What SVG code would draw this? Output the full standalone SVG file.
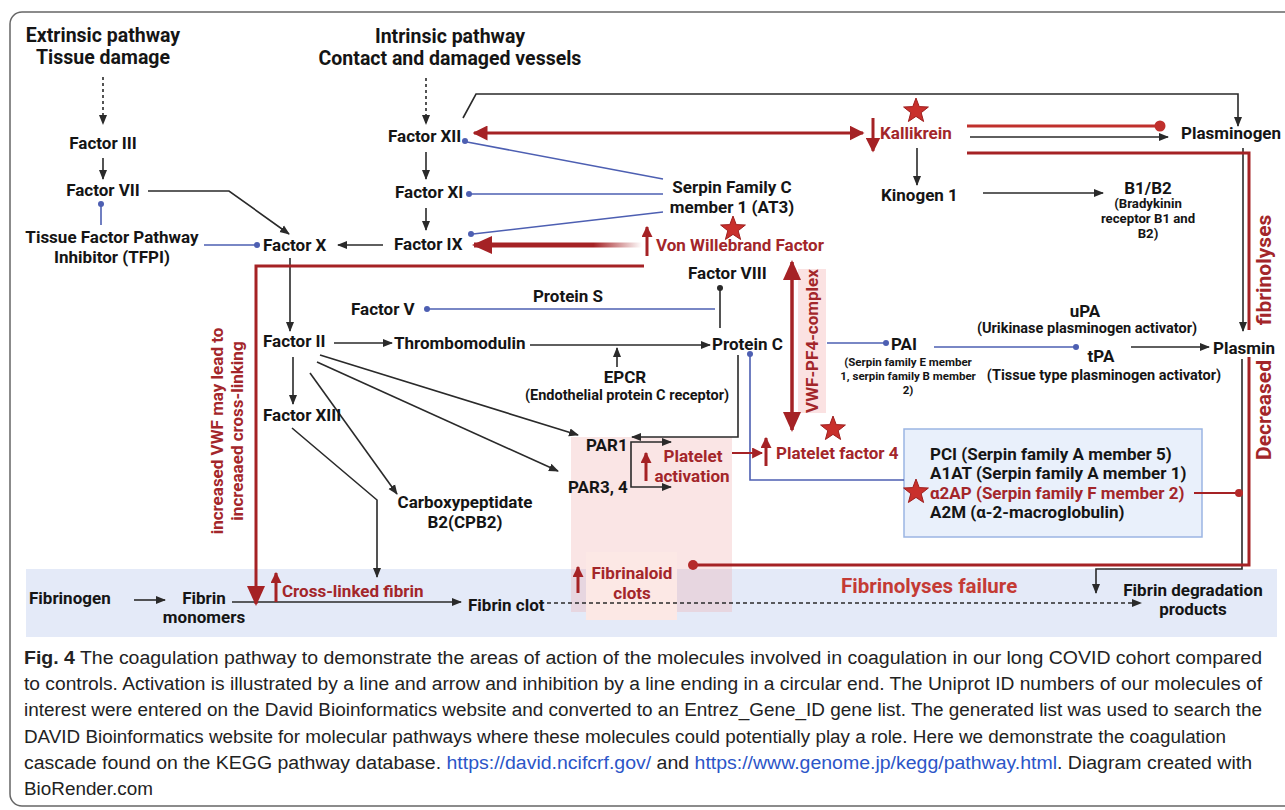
<svg xmlns="http://www.w3.org/2000/svg" width="1285" height="810" viewBox="0 0 1285 810">
<style>
.t{font-family:Roboto,"Liberation Sans",sans-serif;font-weight:700;font-size:17px;fill:#151515}
.h{font-size:19.5px}
.sm{font-size:14.5px}
.xs{font-size:13.2px}
.xxs{font-size:11.5px}
.big{font-size:21px}
.r{fill:#a3262a}
.m{text-anchor:middle}
.k{fill:none;stroke:#2a2a2a;stroke-width:1.6}
.b{fill:none;stroke:#4d5fb2;stroke-width:1.6}
.bd{fill:#4d5fb2}
.rl{fill:none;stroke:#a52225;stroke-width:3}
.rd{fill:#b52a2a}
.cap{font-family:"Liberation Sans",Arial,sans-serif;font-size:18px;fill:#222}
.lnk{fill:#2b55c8}
.st{fill:#c9302c;stroke:#9e1f1f;stroke-width:1}
</style>
<defs>
<marker id="ab" viewBox="0 0 10 10" refX="9" refY="5" markerWidth="10" markerHeight="10" markerUnits="userSpaceOnUse" orient="auto-start-reverse"><path d="M0,1 L10,5 L0,9 z" fill="#2a2a2a"/></marker>
<marker id="ar" viewBox="0 0 10 10" refX="9" refY="5" markerWidth="15" markerHeight="15" markerUnits="userSpaceOnUse" orient="auto-start-reverse"><path d="M0,0 L10,5 L0,10 z" fill="#a52225"/></marker>
<marker id="ars" viewBox="0 0 10 10" refX="9" refY="5" markerWidth="11" markerHeight="11" markerUnits="userSpaceOnUse" orient="auto-start-reverse"><path d="M0,0 L10,5 L0,10 z" fill="#a52225"/></marker>
<marker id="arb" viewBox="0 0 10 10" refX="9" refY="5" markerWidth="20" markerHeight="20" markerUnits="userSpaceOnUse" orient="auto-start-reverse"><path d="M0,0.5 L10,5 L0,9.5 z" fill="#a52225"/></marker>
<linearGradient id="vwf" gradientUnits="userSpaceOnUse" x1="480" y1="0" x2="642" y2="0"><stop offset="0.7" stop-color="#a52225"/><stop offset="1" stop-color="#a52225" stop-opacity="0"/></linearGradient>
<path id="star" d="M0,-13 L3.2,-4.4 L12.4,-4 L5.2,1.7 L7.6,10.5 L0,5.4 L-7.6,10.5 L-5.2,1.7 L-12.4,-4 L-3.2,-4.4 Z"/>
</defs>
<rect x="0" y="0" width="1285" height="810" fill="#fff"/>
<rect x="10" y="12" width="1300" height="794" rx="12" fill="none" stroke="#666" stroke-width="1.5"/>
<rect x="26" y="569" width="1251" height="68" fill="#e4eaf8"/>
<rect x="571" y="437" width="161" height="175" fill="#eeaaaa" fill-opacity="0.3"/>
<rect x="586" y="552" width="91" height="68" fill="#fce8e5"/>
<rect x="798" y="269" width="28" height="144" fill="#fbe2e2"/>
<rect x="904" y="429" width="298" height="108" fill="#e9f0fb" stroke="#9bb5e3" stroke-width="1.5"/>

<g id="connectors">
<path class="k" d="M103,77 V124" stroke-dasharray="3,3" marker-end="url(#ab)"/>
<path class="k" d="M426,78 V124" stroke-dasharray="3,3" marker-end="url(#ab)"/>
<path class="k" d="M103,158 V179" marker-end="url(#ab)"/>
<path class="k" d="M148,191 H229 L289,234" marker-end="url(#ab)"/>
<path class="k" d="M426,152 V179" marker-end="url(#ab)"/>
<path class="k" d="M426,208 V230" marker-end="url(#ab)"/>
<path class="k" d="M383,245 H338" marker-end="url(#ab)"/>
<path class="k" d="M290,258 V331" marker-end="url(#ab)"/>
<path class="k" d="M334,343 H392" marker-end="url(#ab)"/>
<path class="k" d="M530,345 H710" marker-end="url(#ab)"/>
<path class="k" d="M617,367 V348" marker-end="url(#ab)"/>
<path class="k" d="M293,357 V404" marker-end="url(#ab)"/>
<path class="k" d="M320,355 L578,435" marker-end="url(#ab)"/>
<path class="k" d="M317,362 L558,471" marker-end="url(#ab)"/>
<path class="k" d="M310,373 L397,494" marker-end="url(#ab)"/>
<path class="k" d="M292,428 L377,500 V577" marker-end="url(#ab)"/>
<path class="k" d="M738,355 V437 H632" marker-end="url(#ab)"/>
<path class="k" d="M631,465 V442 H671" marker-end="url(#ab)"/>
<path class="k" d="M631,465 V487 H671" marker-end="url(#ab)"/>
<path class="k" d="M720,328 V290"/>
<circle cx="720" cy="288" r="3" fill="#2a2a2a"/>
<path class="k" d="M463,118 L476,94 H1238 V126" marker-end="url(#ab)"/>
<path class="k" d="M970,137 H1168" marker-end="url(#ab)"/>
<path class="k" d="M917,148 V185" marker-end="url(#ab)"/>
<path class="k" d="M983,193 H1103" marker-end="url(#ab)"/>
<path class="k" d="M1243,148 V331" marker-end="url(#ab)"/>
<path class="k" d="M1131,347 H1209" marker-end="url(#ab)"/>
<path class="k" d="M1242,359 V569 H1096 V593" marker-end="url(#ab)"/>
<path class="k" d="M134,600 H165" marker-end="url(#ab)"/>
<path class="k" d="M232,602 H461" marker-end="url(#ab)"/>
<path class="k" d="M547,603 H1141" stroke-dasharray="4,3" marker-end="url(#ab)"/>

<path class="b" d="M101,225 V206"/><circle class="bd" cx="101" cy="204" r="3"/>
<path class="b" d="M204,245 H255"/><circle class="bd" cx="257" cy="245" r="3"/>
<path class="b" d="M663,179 L467,142"/><circle class="bd" cx="465" cy="141" r="3"/>
<path class="b" d="M663,194 H471"/><circle class="bd" cx="469" cy="194" r="3"/>
<path class="b" d="M663,212 L473,234"/><circle class="bd" cx="471" cy="234" r="3"/>
<path class="b" d="M715,309 H429"/><circle class="bd" cx="427" cy="309" r="3"/>
<path class="b" d="M750,356 V480 H904"/><circle class="bd" cx="750" cy="354" r="3"/>
<path class="b" d="M827,343 H884"/><circle class="bd" cx="886" cy="343" r="3"/>
<path class="b" d="M934,347 H1074"/><circle class="bd" cx="1076" cy="347" r="3"/>

<path class="rl" d="M474,133 H863" marker-start="url(#ar)" marker-end="url(#ar)"/>
<path d="M642,245 H474" fill="none" stroke="url(#vwf)" stroke-width="5" marker-end="url(#arb)"/>
<path class="rl" d="M647,256 V227" marker-end="url(#ars)"/>
<path class="rl" d="M644,266 H256 V604" marker-end="url(#arb)"/>
<path class="rl" d="M873,118 V151" marker-end="url(#ar)"/>
<path class="rl" d="M967,126 H1156" style="stroke:#c0302c"/><circle cx="1160" cy="126" r="5.5" fill="#c0302c"/>
<path class="rl" d="M967,153 H1249 V330"/>
<path class="rl" d="M1249,357 V565 H697"/><circle class="rd" cx="693" cy="565" r="5"/>
<path class="rl" d="M1194,493 H1236" style="stroke-width:2"/><circle class="rd" cx="1239" cy="493" r="4"/>
<path class="rl" d="M732,453 H762" style="stroke-width:2" marker-end="url(#ars)"/>
<path class="rl" d="M766,466 V438" marker-end="url(#ars)"/>
<path class="rl" d="M792,262 V430" style="stroke-width:3.5" marker-start="url(#arb)" marker-end="url(#arb)"/>
<path class="rl" d="M646,481 V453" marker-end="url(#ars)"/>
<path class="rl" d="M578,593 V567" marker-end="url(#ars)"/>
<path class="rl" d="M276,602 V573" marker-end="url(#ars)"/>
</g>

<g id="stars">
<use href="#star" class="st" x="916" y="111"/>
<use href="#star" class="st" x="733" y="229"/>
<use href="#star" class="st" x="833" y="429"/>
<use href="#star" class="st" x="916" y="492"/>
</g>

<g id="n-extrinsic"><text class="t h m" x="103" y="42">Extrinsic pathway</text><text class="t h m" x="103" y="64">Tissue damage</text></g>
<g id="n-intrinsic"><text class="t h m" x="450" y="43">Intrinsic pathway</text><text class="t h m" x="450" y="65">Contact and damaged vessels</text></g>
<g id="n-f3"><text class="t m" x="103" y="149">Factor III</text></g>
<g id="n-f7"><text class="t m" x="103" y="196">Factor VII</text></g>
<g id="n-tfpi"><text class="t m" x="112" y="243">Tissue Factor Pathway</text><text class="t m" x="112" y="263">Inhibitor (TFPI)</text></g>
<g id="n-f10"><text class="t" x="263" y="251">Factor X</text></g>
<g id="n-f12"><text class="t" x="388" y="142">Factor XII</text></g>
<g id="n-f11"><text class="t" x="395" y="198">Factor XI</text></g>
<g id="n-f9"><text class="t" x="394" y="250">Factor IX</text></g>
<g id="n-serpinc"><text class="t m" x="732" y="193">Serpin Family C</text><text class="t m" x="732" y="213">member 1 (AT3)</text></g>
<g id="n-vwf"><text class="t r" x="656" y="251">Von Willebrand Factor</text></g>
<g id="n-kallikrein"><text class="t r" x="880" y="139">Kallikrein</text></g>
<g id="n-plasminogen"><text class="t" x="1181" y="139">Plasminogen</text></g>
<g id="n-kinogen"><text class="t" x="881" y="201">Kinogen 1</text></g>
<g id="n-b1b2"><text class="t m" x="1148" y="194">B1/B2</text><text class="t xs m" x="1148" y="208">(Bradykinin</text><text class="t xs m" x="1148" y="223">receptor B1 and</text><text class="t xs m" x="1148" y="238">B2)</text></g>
<g id="n-f8"><text class="t" x="688" y="279">Factor VIII</text></g>
<g id="n-proteins"><text class="t m" x="568" y="302">Protein S</text></g>
<g id="n-f5"><text class="t" x="351" y="315">Factor V</text></g>
<g id="n-f2"><text class="t" x="263" y="347">Factor II</text></g>
<g id="n-thrombomodulin"><text class="t" x="394" y="349">Thrombomodulin</text></g>
<g id="n-proteinc"><text class="t" x="712" y="350">Protein C</text></g>
<g id="n-epcr"><text class="t m" x="625" y="383">EPCR</text><text class="t sm m" x="627" y="400">(Endothelial protein C receptor)</text></g>
<g id="n-f13"><text class="t" x="263" y="421">Factor XIII</text></g>
<g id="n-cpb2"><text class="t m" x="465" y="508">Carboxypeptidate</text><text class="t m" x="465" y="528">B2(CPB2)</text></g>
<g id="n-par1"><text class="t" x="586" y="451">PAR1</text></g>
<g id="n-par34"><text class="t" x="568" y="493">PAR3, 4</text></g>
<g id="n-platelet"><text class="t r m" x="693" y="462">Platelet</text><text class="t r m" x="692" y="482">activation</text></g>
<g id="n-pf4"><text class="t r" x="776" y="459">Platelet factor 4</text></g>
<g id="n-vwfpf4"><text class="t r m" x="812" y="341" dominant-baseline="central" transform="rotate(-90 812 341)">VWF-PF4-complex</text></g>
<g id="n-pai"><text class="t" x="891" y="350">PAI</text><text class="t xxs m" x="908" y="366">(Serpin family E member</text><text class="t xxs m" x="908" y="380">1, serpin family B member</text><text class="t xxs m" x="908" y="394">2)</text></g>
<g id="n-upa"><text class="t m" x="1085" y="317">uPA</text><text class="t sm m" x="1087" y="333">(Urikinase plasminogen activator)</text></g>
<g id="n-tpa"><text class="t m" x="1101" y="362">tPA</text><text class="t sm m" x="1104" y="380">(Tissue type plasminogen activator)</text></g>
<g id="n-plasmin"><text class="t" x="1213" y="354">Plasmin</text></g>
<g id="n-serpins"><text class="t" x="930" y="460">PCI (Serpin family A member 5)</text><text class="t" x="930" y="479">A1AT (Serpin family A member 1)</text><text class="t r" x="930" y="499">α2AP (Serpin family F member 2)</text><text class="t" x="930" y="518">A2M (α-2-macroglobulin)</text></g>
<g id="n-decreased"><text class="t r m big" x="1264" y="270" dominant-baseline="central" transform="rotate(-90 1264 270)">fibrinolyses</text><text class="t r m big" x="1264" y="410" dominant-baseline="central" transform="rotate(-90 1264 410)">Decreased</text></g>
<g id="n-vwfnote"><text class="t r m" x="217" y="431" dominant-baseline="central" transform="rotate(-90 217 431)">increased VWF may lead to</text><text class="t r m" x="237" y="431" dominant-baseline="central" transform="rotate(-90 237 431)">increaaed cross-linking</text></g>
<g id="n-fibrinogen"><text class="t" x="29" y="604">Fibrinogen</text></g>
<g id="n-monomers"><text class="t m" x="204" y="604">Fibrin</text><text class="t m" x="204" y="623">monomers</text></g>
<g id="n-crosslinked"><text class="t r" x="282" y="597">Cross-linked fibrin</text></g>
<g id="n-clot"><text class="t" x="468" y="611">Fibrin clot</text></g>
<g id="n-fibrinaloid"><text class="t r m" x="632" y="579">Fibrinaloid</text><text class="t r m" x="632" y="599">clots</text></g>
<g id="n-failure"><text class="t" x="841" y="593" style="font-size:20.5px;fill:#c43b35">Fibrinolyses failure</text></g>
<g id="n-fdp"><text class="t m" x="1193" y="596">Fibrin degradation</text><text class="t m" x="1193" y="615">products</text></g>

<g id="caption">
<text class="cap" x="24" y="664" textLength="1238" lengthAdjust="spacingAndGlyphs"><tspan font-weight="bold">Fig. 4</tspan>  The coagulation pathway to demonstrate the areas of action of the molecules involved in coagulation in our long COVID cohort compared</text>
<text class="cap" x="24" y="690" textLength="1238" lengthAdjust="spacingAndGlyphs">to controls. Activation is illustrated by a line and arrow and inhibition by a line ending in a circular end. The Uniprot ID numbers of our molecules of</text>
<text class="cap" x="24" y="716" textLength="1238" lengthAdjust="spacingAndGlyphs">interest were entered on the David Bioinformatics website and converted to an Entrez_Gene_ID gene list. The generated list was used to search the</text>
<text class="cap" x="24" y="743" textLength="1202" lengthAdjust="spacingAndGlyphs">DAVID Bioinformatics website for molecular pathways where these molecules could potentially play a role. Here we demonstrate the coagulation</text>
<text class="cap" x="24" y="769" textLength="1228" lengthAdjust="spacingAndGlyphs">cascade found on the KEGG pathway database. <tspan class="lnk">https://david.ncifcrf.gov/</tspan> and <tspan class="lnk">https://www.genome.jp/kegg/pathway.html</tspan>. Diagram created with</text>
<text class="cap" x="24" y="795" textLength="129" lengthAdjust="spacingAndGlyphs">BioRender.com</text>
</g>
</svg>
